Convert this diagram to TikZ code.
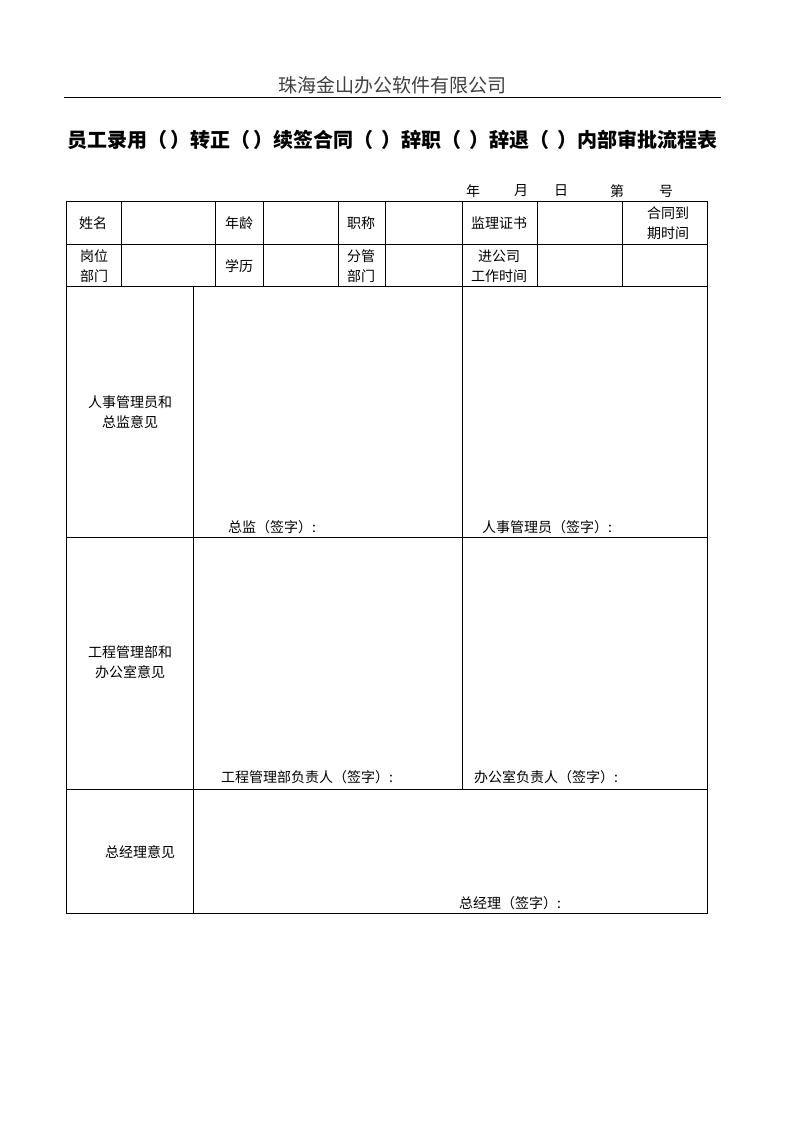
\documentclass[tikz,border=0pt]{standalone}
\usepackage{fontspec}
\setmainfont{Noto Sans CJK SC}
\usetikzlibrary{positioning}

\begin{document}
\begin{tikzpicture}[x=1pt,y=-1pt,
  cell/.style={font=\fontsize{14}{20}\selectfont, inner sep=0pt, align=center},
  sign/.style={font=\fontsize{14}{20}\selectfont, inner sep=0pt, anchor=west},
  grid/.style={line width=1pt}]
\useasboundingbox (0,0) rectangle (794,1123);

% Page header
\node[font=\fontsize{19}{22}\selectfont, text=black!75] (company) at (392,85) {珠海金山办公软件有限公司};
\draw[line width=0.8pt] (64,97) -- (721,97);

% Title
\node[font=\fontsize{20}{24}\selectfont\bfseries, inner sep=0pt] (title) at (392.5,140)
  {员工录用（\hspace{3pt}）转正（\hspace{3pt}）续签合同（\hspace{8pt}）辞职（\hspace{8pt}）辞退（\hspace{8pt}）内部审批流程表};

% Date and number
\foreach \x/\t in {473/年,521/月,561/日,617/第,666/号}{
\node[cell] (date\x) at (\x,191) {\t};
}

% Table frame
\draw[grid] (66,202) rectangle (707,913);
\foreach \y in {244,286,537,789}{
\draw[grid] (66,\y) -- (707,\y);
}
\foreach \x in {121,215,263,338,385,462,537,622}{
\draw[grid] (\x,202) -- (\x,286);
}
\draw[grid] (193,286) -- (193,913);
\draw[grid] (462,286) -- (462,789);

% Row 1
\node[cell] (name) at (93,223) {姓名};
\node[cell] (age) at (239,223) {年龄};
\node[cell] (rank) at (361,223) {职称};
\node[cell] (cert) at (499,223) {监理证书};
\node[cell] (contract) at (668,223) {合同到\\期时间};

% Row 2
\node[cell] (post) at (94,266) {岗位\\部门};
\node[cell] (edu) at (239,266) {学历};
\node[cell] (dept) at (361,266) {分管\\部门};
\node[cell] (entry) at (499,266) {进公司\\工作时间};

% Section 1
\node[cell] (hrview) at (130,412) {人事管理员和\\总监意见};
\node[sign] (dirsign) at (228,527) {总监（签字）:};
\node[sign] (hrsign) at (482,527) {人事管理员（签字）:};

% Section 2
\node[cell] (engview) at (130,662) {工程管理部和\\办公室意见};
\node[sign] (engsign) at (221,777) {工程管理部负责人（签字）:};
\node[sign] (offsign) at (474,777) {办公室负责人（签字）:};

% Section 3
\node[cell] (gmview) at (140,852) {总经理意见};
\node[sign] (gmsign) at (459,903) {总经理（签字）:};

\end{tikzpicture}
\end{document}
